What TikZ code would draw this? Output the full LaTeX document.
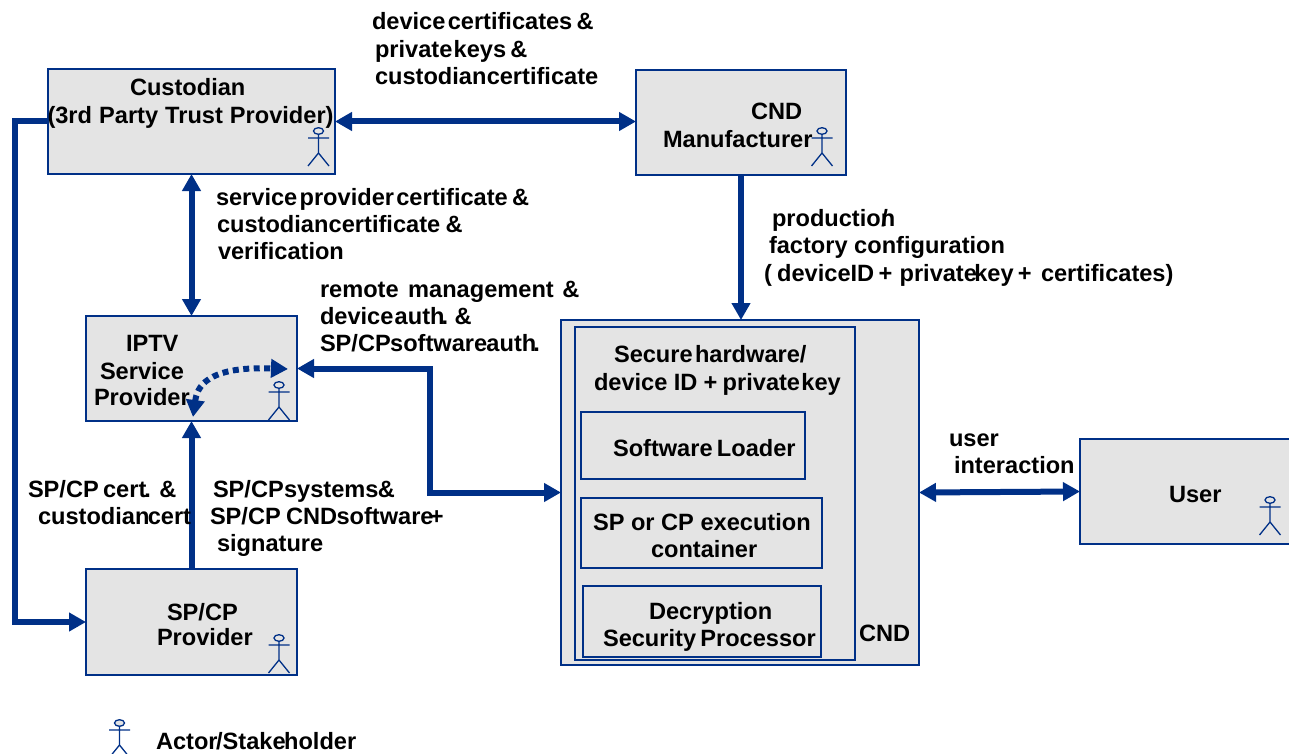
\documentclass[tikz,border=0pt]{standalone}
\usepackage{fontspec}
\setmainfont{Liberation Sans}
\newfontfamily\tightf[WordSpace=0.35]{Liberation Sans}
\usetikzlibrary{arrows.meta}
\definecolor{navy}{RGB}{0,48,135}
\definecolor{boxfill}{RGB}{228,228,228}
\newcommand{\kn}[1]{\hspace{#1pt}}
\tikzset{
  box/.style={draw=navy,line width=1.2pt,fill=boxfill,inner sep=0pt,outer sep=0pt},
  lbl/.style={anchor=base west,inner sep=0pt,outer sep=0pt,font=\fontsize{23.6}{26}\selectfont\bfseries},
  tlbl/.style={anchor=base west,inner sep=0pt,outer sep=0pt,font=\tightf\fontsize{23.6}{26}\selectfont\bfseries},
  link/.style={draw=navy,line width=6pt,line join=miter},
  both/.style={{Triangle[width=18pt,length=17pt]}-{Triangle[width=18pt,length=17pt]}},
  one/.style={-{Triangle[width=18pt,length=17pt]}},
  actor/.pic={
    \draw[navy,line width=1.3pt,fill=boxfill] (0,0) ellipse (5 and 3.3);
    \draw[navy,line width=1.3pt] (0,3.3) -- (0,22) (-10.5,7) -- (10.5,7) (-10.5,35) -- (0,22) -- (10.5,35);
  }
}
\begin{document}
\begin{tikzpicture}[x=1pt,y=-1pt]
\useasboundingbox (0,0) rectangle (1289,754);
% boxes
\node[box,minimum width=287pt,minimum height=105pt] (cust) at (191.5,121.5) {};
\node[box,minimum width=210pt,minimum height=105pt] (mfr) at (741,122.5) {};
\node[box,minimum width=211pt,minimum height=105pt] (iptv) at (191.5,368.5) {};
\node[box,minimum width=211pt,minimum height=106pt] (spcp) at (191.5,622) {};
\node[box,minimum width=358pt,minimum height=345pt] (cnd) at (740,492.5) {};
\node[box,minimum width=280pt,minimum height=333pt] (secure) at (715,493.5) {};
\node[box,minimum width=224pt,minimum height=67pt] (loader) at (693,445.5) {};
\node[box,minimum width=241pt,minimum height=70pt] (exec) at (701.5,533) {};
\node[box,minimum width=238pt,minimum height=71pt] (decr) at (702,621.5) {};
\node[box,minimum width=212pt,minimum height=105pt] (user) at (1186,491.5) {};
% actors
\pic at (318.5,131) {actor};
\pic at (822,131) {actor};
\pic at (279,385) {actor};
\pic at (279,638) {actor};
\pic at (1270,500) {actor};
\pic at (119.5,723) {actor};
% connectors
\coordinate (lefttop) at (15,121.5);
\coordinate (leftbot) at (15,622);
\coordinate (jogtop) at (430,368.5);
\coordinate (jogbot) at (430,492.5);
\coordinate (dashstart) at (193,417);
\coordinate (dashend) at (288,369);
\draw[link,both] (cust.east) -- (mfr.west |- cust.east);
\draw[link,one] (cust.west) -- (lefttop) -- (leftbot) -- (spcp.west);
\draw[link,both] (cust.south) -- (iptv.north);
\draw[link,one] (mfr.south) -- (mfr.south |- cnd.north);
\draw[link,one] (spcp.north) -- (iptv.south);
\draw[link,both] (iptv.east) -- (jogtop) -- (jogbot) -- (cnd.west);
\draw[link,both] (cnd.east) -- (user.west);
\draw[navy,line width=6pt,dash pattern=on 6pt off 4.5pt,both] (dashstart) .. controls (197,388) and (205,366) .. (dashend);
% labels
\node[lbl] (t1) at (130,96) {Custodian};
\node[lbl] (t2) at (47.5,124) {(3rd\kn{0.5} Party\kn{0.5} Trust\kn{0.5} Provider)};
\node[tlbl] (t3) at (372,30) {device certificates\kn{2} \&};
\node[tlbl] (t4) at (375,58) {private \kn{-1}keys \kn{2}\&};
\node[tlbl] (t5) at (375,85) {custodian \kn{-2}certificate};
\node[lbl] (t6) at (751,120) {CND};
\node[lbl] (t7) at (663,148) {Manufacturer};
\node[tlbl] (t8) at (216,205) {service provider certificate\kn{2} \&};
\node[tlbl] (t9) at (217,232) {custodian \kn{-2}certificate\kn{3} \&};
\node[tlbl] (t10) at (218,259) {verification};
\node[tlbl] (t11) at (772,226) {production\kn{-14}/};
\node[lbl] (t12) at (769,253) {factory configuration};
\node[tlbl] (t13) at (764,281) {( \kn{3}deviceID\kn{2} +\kn{5} private \kn{-5}key\kn{2} +\kn{7} certificates)};
\node[lbl] (t14) at (320,297) {remote\kn{3} management\kn{2} \&};
\node[tlbl] (t15) at (320,324) {device \kn{-1}auth\kn{-3}. \kn{2}\&};
\node[tlbl] (t16) at (320,351) {SP/CP \kn{-3}software \kn{-3}auth\kn{-3}.};
\node[lbl] (t17) at (126,351) {IPTV};
\node[lbl] (t18) at (100,379) {Service};
\node[lbl] (t19) at (94,405) {Provider};
\node[tlbl] (t20) at (28,497) {SP/CP \kn{2}cert\kn{-2}. \kn{4}\&};
\node[tlbl] (t21) at (38,524) {custodian \kn{-4}cert};
\node[tlbl] (t22) at (213,497) {SP/CP \kn{-2}systems \kn{-3}\&};
\node[tlbl] (t23) at (210,524) {SP/CP\kn{3} CND \kn{-3}software \kn{-6}+};
\node[lbl] (t24) at (217,551) {signature};
\node[lbl] (t25) at (167,620) {SP/CP};
\node[lbl] (t26) at (157,645) {Provider};
\node[tlbl] (t27) at (614,362) {Secure hardware/};
\node[tlbl] (t28) at (594,390) {device\kn{4} ID\kn{4} +\kn{3} private \kn{-1}key};
\node[tlbl] (t29) at (613,456) {Software\kn{2} Loader};
\node[lbl] (t30) at (593,530) {SP or CP execution};
\node[lbl] (t31) at (651,557) {container};
\node[lbl] (t32) at (649,619) {Decryption};
\node[tlbl] (t33) at (603,646) {Security\kn{2} Processor};
\node[lbl] (t34) at (859,641) {CND};
\node[lbl] (t35) at (949,446) {user};
\node[lbl] (t36) at (954,473) {interaction};
\node[lbl] (t37) at (1169,502) {User};
\node[lbl] (t38) at (156,749) {Actor\kn{-1.5}/Stake\kn{-1.5}holder};
\end{tikzpicture}
\end{document}
